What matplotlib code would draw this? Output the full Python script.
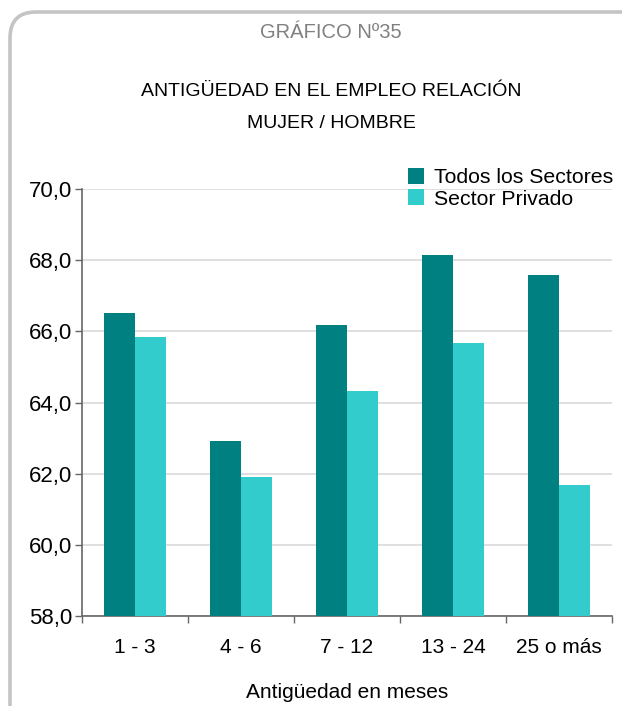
import matplotlib
matplotlib.use("Agg")
import matplotlib.pyplot as plt
import matplotlib.patches as mpatches
import matplotlib.transforms as mtransforms
from matplotlib.ticker import FuncFormatter, FixedLocator
import numpy as np

plt.rcParams['font.family'] = ['Liberation Sans', 'DejaVu Sans']

categories = ["1 - 3", "4 - 6", "7 - 12", "13 - 24", "25 o más"]
todos_sectores = [66.51, 62.92, 66.18, 68.15, 67.58]
sector_privado = [65.84, 61.91, 64.32, 65.67, 61.68]
series_names = ["Todos los Sectores", "Sector Privado"]

W, H = 622, 706
fig = plt.figure(figsize=(W / 100, H / 100), dpi=100)

# rounded frame around the whole chart
frame = mpatches.FancyBboxPatch(
    (10, -40), 640, H - 12 + 40, boxstyle="round,pad=0,rounding_size=26",
    transform=mtransforms.IdentityTransform(), facecolor="none",
    edgecolor="#c4c4c4", linewidth=2.6, zorder=0)
fig.add_artist(frame)

ax = fig.add_axes([82 / W, 1 - 616 / H, (612 - 82) / W, (616 - 189) / H])

x = np.arange(len(categories))
bw = 0.29
ax.bar(x - bw / 2, todos_sectores, bw, color="#008080", label=series_names[0], zorder=3)
ax.bar(x + bw / 2, sector_privado, bw, color="#33CCCC", label=series_names[1], zorder=3)

ax.set_xlim(-0.5, len(categories) - 0.5)
ax.set_ylim(58, 70)
ax.set_yticks(np.arange(58, 70.1, 2))
ax.yaxis.set_major_formatter(FuncFormatter(lambda v, p: f"{v:.1f}".replace(".", ",")))
ax.grid(axis="y", color="#d9d9d9", linewidth=1.2, zorder=0)
ax.set_axisbelow(True)

ax.set_xticks(x)
ax.set_xticklabels(categories)
ax.xaxis.set_minor_locator(FixedLocator(np.arange(-0.5, len(categories), 1)))
ax.tick_params(axis="x", which="major", length=0, pad=15.5, labelsize=15)
ax.tick_params(axis="x", which="minor", length=5, color="#666666", width=1)
ax.tick_params(axis="y", length=5, color="#666666", width=1, pad=2, labelsize=16)

for s in ["top", "right"]:
    ax.spines[s].set_visible(False)
for s in ["left", "bottom"]:
    ax.spines[s].set_color("#666666")
    ax.spines[s].set_linewidth(1.2)

ax.set_xlabel("Antigüedad en meses", fontsize=15, labelpad=19)

fig.text(331 / W, 1 - 32 / H, "GRÁFICO Nº35", ha="center", va="center",
         fontsize=14.5, color="#808080")
fig.text(331 / W, 1 - 91 / H, "ANTIGÜEDAD EN EL EMPLEO RELACIÓN", ha="center",
         va="center", fontsize=14, color="#000000")
fig.text(331 / W, 1 - 123 / H, "MUJER / HOMBRE", ha="center", va="center",
         fontsize=14, color="#000000")

leg = fig.legend(loc="upper left", bbox_to_anchor=(408 / W, 1 - 168 / H),
                 frameon=False, fontsize=15.3, handlelength=0.75, handleheight=0.75,
                 handletextpad=0.45, labelspacing=0.1, borderaxespad=0, borderpad=0)

fig.savefig("out.png", dpi=100, facecolor="white")
